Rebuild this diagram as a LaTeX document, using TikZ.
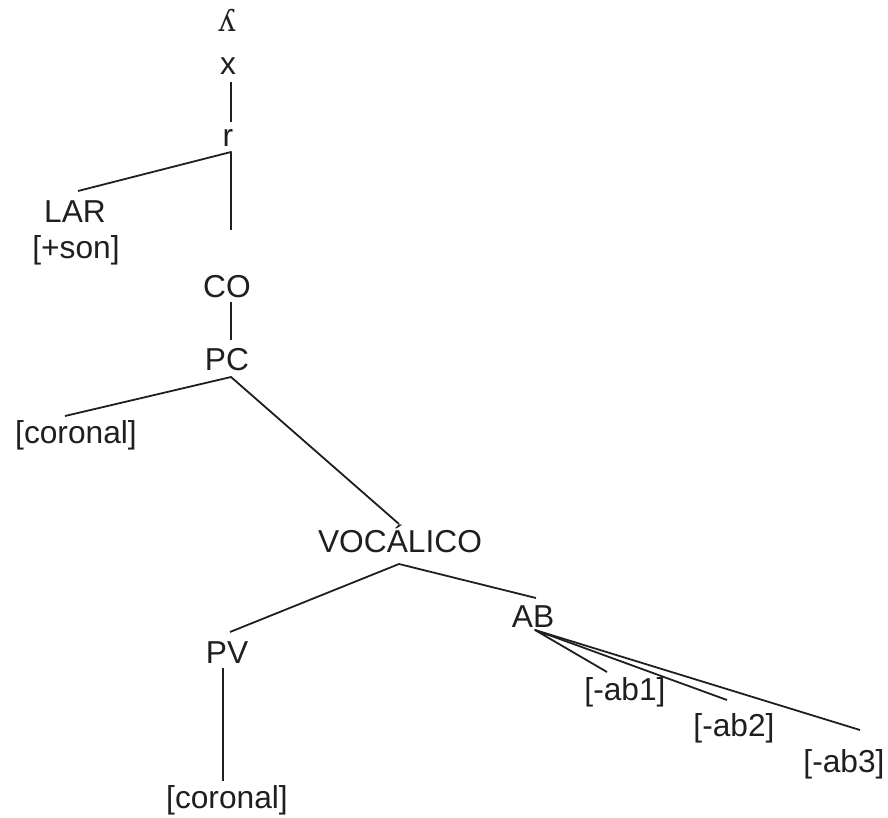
\documentclass[tikz,border=0pt]{standalone}
\usepackage{fontspec}
\setmainfont{Liberation Sans}
\newfontfamily\ipafont{DejaVu Serif}
\begin{document}
\begin{tikzpicture}[x=0.5pt,y=-0.5pt,
  lbl/.style={anchor=base,inner sep=0pt,text=black!88,font=\fontsize{15.85}{19}\selectfont},
  ipa/.style={anchor=base,inner sep=0pt,text=black!88,font=\ipafont\fontsize{15}{18}\selectfont},
  edge/.style={line width=0.9pt,line join=round,draw=black!88}]
\useasboundingbox (0,0) rectangle (888,818);
% nodes
\node[ipa] (lam) at (227,32) {ʎ};
\node[lbl] (x) at (228,75) {x};
\node[lbl] (r) at (228,147) {r};
\node[lbl] (lar) at (75,223) {LAR};
\node[lbl] (son) at (76,258) {[+son]};
\node[lbl] (co) at (227,297) {CO};
\node[lbl] (pc) at (227,370) {PC};
\node[lbl] (cor1) at (76,443) {[coronal]};
\node[lbl] (voc) at (400,552) {VOCÁLICO};
\node[lbl] (ab) at (533,627) {AB};
\node[lbl] (pv) at (227,663) {PV};
\node[lbl] (ab1) at (625,700) {[-ab1]};
\node[lbl] (ab2) at (734,736) {[-ab2]};
\node[lbl] (ab3) at (844,772) {[-ab3]};
\node[lbl] (cor2) at (227,808) {[coronal]};
% connector ends
\coordinate (xb) at (231,82);
\coordinate (rt) at (231,122);
\coordinate (rj) at (231,152);
\coordinate (lart) at (78,191);
\coordinate (cot) at (231,230);
\coordinate (cob) at (231,302);
\coordinate (pct) at (231,340);
\coordinate (pcj) at (231,377);
\coordinate (cor1t) at (65,416);
\coordinate (voct) at (399,524);
\coordinate (vocj) at (399,564);
\coordinate (pvt) at (230,632);
\coordinate (abt) at (536,598);
\coordinate (pvb) at (223,668);
\coordinate (cor2t) at (223,781);
\coordinate (abj) at (535,630);
\coordinate (ab1t) at (607,672);
\coordinate (ab2t) at (727,700);
\coordinate (ab3t) at (860,730);
% connectors
\draw[edge] (xb) -- (rt);
\draw[edge] (lart) -- (rj) -- (cot);
\draw[edge] (cob) -- (pct);
\draw[edge] (cor1t) -- (pcj) -- (voct);
\draw[edge] (pvt) -- (vocj) -- (abt);
\draw[edge] (pvb) -- (cor2t);
\draw[edge] (ab1t) -- (abj) -- (ab2t);
\draw[edge] (abj) -- (ab3t);
\end{tikzpicture}
\end{document}
